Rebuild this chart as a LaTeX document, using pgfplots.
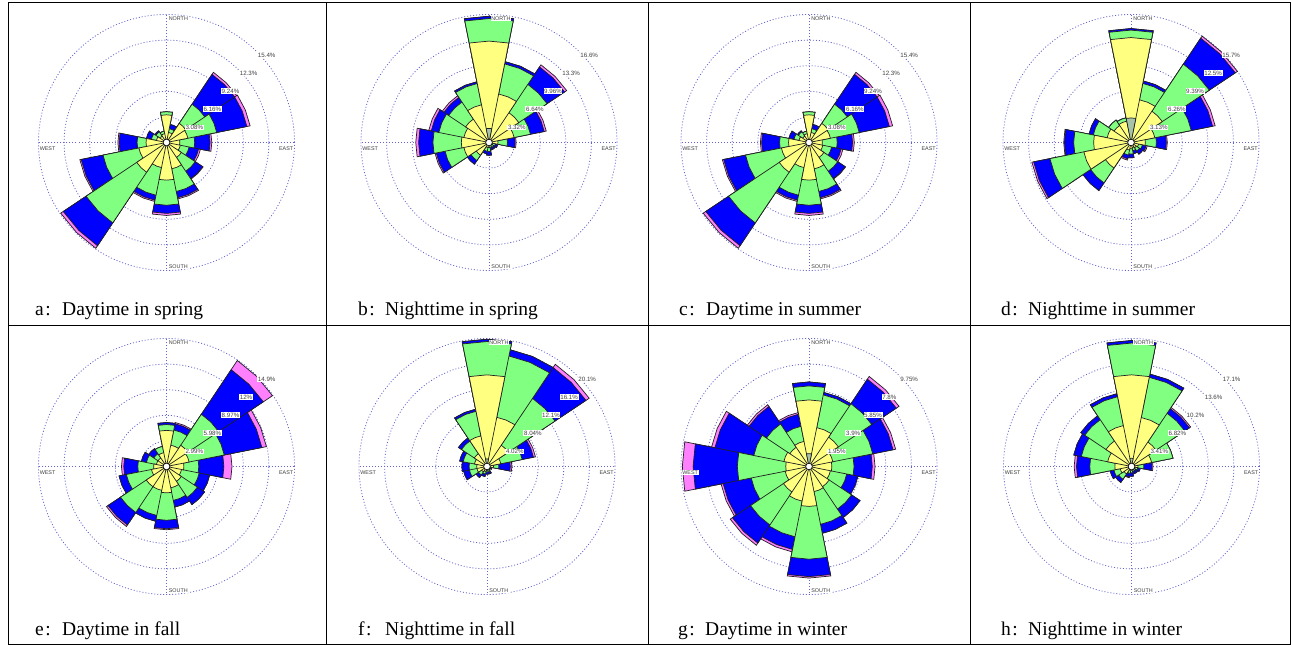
\documentclass[border=0pt]{standalone}
\usepackage{fontspec}
\setmainfont{Liberation Serif}
\newfontfamily\lsans{Liberation Sans}
\usepackage{pgfplots}
\usepackage{pgfplotstable}
\pgfplotsset{compat=1.18}
\usepgfplotslibrary{polar}
\definecolor{wgray}{HTML}{A8C4A8}
\definecolor{wyellow}{HTML}{FFFF80}
\definecolor{wgreen}{HTML}{80FF80}
\definecolor{wblue}{HTML}{0000FF}
\definecolor{wmag}{HTML}{FF80FF}
\definecolor{gridblue}{HTML}{6464CC}
\definecolor{lbl}{HTML}{404040}
\definecolor{edge}{HTML}{202020}

% cumulative percentages per direction (0=N, clockwise): k calm-ish bin, y yellow, g green, b blue, m magenta
\pgfplotstableread{
d k y g b m
0 0 3.33 3.70 3.70 3.70
1 0 1.23 1.69 2.22 2.22
2 0 2.77 5.54 9.86 10.16
3 0 2.62 6.16 9.86 10.26
4 0 1.60 3.39 5.24 5.45
5 0 1.69 2.77 3.94 4.16
6 0 2.16 4.16 5.24 5.30
7 0 3.23 6.01 6.78 6.93
8 0 4.53 7.55 8.53 8.78
9 0 3.08 6.47 7.08 7.24
10 0 4.31 11.64 14.94 15.31
11 0 3.39 7.79 10.47 10.63
12 0 2.46 3.54 5.70 5.85
13 0 1.23 1.85 2.46 2.46
14 0 0.92 1.54 1.69 1.69
15 0 1.08 1.39 1.39 1.39
}\tabA
\pgfplotstableread{
d k y g b m
0 1.83 13.15 16.07 16.37 16.37
1 0 6.41 10.39 10.69 10.69
2 0 4.65 9.06 11.79 12.12
3 0 3.32 5.48 7.30 7.57
4 0 1.16 2.39 3.39 3.52
5 0 0.50 0.83 1.16 1.16
6 0 0.40 0.73 1.00 1.00
7 0 0.40 0.73 1.00 1.00
8 0 0.66 1.16 1.66 1.66
9 0 0.66 1.16 1.49 1.49
10 0 1.99 2.82 3.39 3.39
11 0 3.32 5.81 6.97 7.14
12 0 3.59 7.27 9.13 9.50
13 0 3.32 6.64 7.64 7.97
14 0 3.65 6.31 7.04 7.30
15 0 4.98 7.80 8.03 8.03
}\tabB
\pgfplotstableread{
d k y g b m
0 3.00 12.83 13.74 13.93 13.93
1 0 5.32 7.36 7.67 7.67
2 0 4.60 11.52 15.34 15.65
3 0 2.97 7.51 10.17 10.49
4 0 1.75 3.10 4.32 4.44
5 0 0.94 1.41 1.88 2.03
6 0 0.78 1.25 1.72 1.72
7 0 0.63 1.03 1.41 1.41
8 0 0.78 1.41 1.88 1.88
9 0 0.94 1.57 2.03 2.19
10 0 3.76 5.95 7.07 7.07
11 0 5.88 10.11 12.14 12.36
12 0 4.57 7.01 8.14 8.23
13 0 2.97 4.70 5.23 5.23
14 0 2.50 3.29 3.29 3.29
15 0 2.66 3.07 3.07 3.07
}\tabD
\pgfplotstableread{
d k y g b m
0 0 4.22 4.90 5.14 5.14
1 0 2.54 4.34 5.08 5.23
2 0 2.99 7.33 13.60 14.89
3 0 2.69 6.88 11.36 11.90
4 0 2.03 3.77 6.70 7.65
5 0 1.79 3.89 5.14 5.14
6 0 2.09 4.34 5.35 5.35
7 0 2.54 4.04 4.84 4.84
8 0 3.08 6.28 7.27 7.39
9 0 2.84 5.83 6.52 6.52
10 0 2.84 6.46 8.22 8.43
11 0 1.79 4.78 5.65 5.65
12 0 1.50 3.35 4.99 5.26
13 0 1.20 2.39 2.99 2.99
14 0 1.20 1.79 2.51 2.51
15 0 1.64 2.39 2.39 2.39
}\tabE
\pgfplotstableread{
d k y g b m
0 1.20 14.39 19.62 19.98 19.98
1 0 7.88 17.69 18.69 18.69
2 0 4.02 12.86 18.69 19.30
3 0 2.21 5.63 7.44 7.76
4 0 1.01 1.85 3.66 3.90
5 0 0.40 0.60 0.80 0.80
6 0 0.32 0.48 0.60 0.60
7 0 0.60 0.88 1.21 1.21
8 0 0.60 0.88 1.21 1.21
9 0 0.80 1.21 1.61 1.61
10 0 1.01 1.61 2.09 2.09
11 0 1.61 2.81 3.74 3.74
12 0 1.61 2.81 3.94 3.94
13 0 2.01 3.82 4.38 4.38
14 0 2.41 4.82 5.39 5.39
15 0 4.90 8.84 9.17 9.17
}\tabF
\pgfplotstableread{
d k y g b m
0 0.98 5.07 6.14 6.44 6.44
1 0 3.02 5.56 5.75 5.75
2 0 2.69 5.75 8.00 8.25
3 0 1.85 4.95 6.53 6.73
4 0 1.74 3.43 4.82 5.03
5 0 1.66 2.93 3.80 3.80
6 0 1.85 3.90 4.68 4.68
7 0 1.95 4.49 5.19 5.19
8 0 3.04 7.06 8.39 8.50
9 0 2.69 5.46 6.44 6.63
10 0 2.34 5.36 7.02 7.22
11 0 1.85 4.49 6.67 6.83
12 0 1.77 5.46 8.83 9.65
13 0 1.95 4.29 7.31 7.57
14 0 1.76 3.90 5.50 5.66
15 0 1.95 3.12 4.06 4.19
}\tabG
\pgfplotstableread{
d k y g b m
0 1.09 12.21 16.44 16.78 16.78
1 0 6.65 12.11 12.55 12.55
2 0 3.92 8.53 9.28 9.48
3 0 2.73 5.63 5.63 5.63
4 0 0.85 1.64 2.73 2.86
5 0 0.51 0.85 1.19 1.19
6 0 0.41 0.68 1.02 1.02
7 0 0.41 0.68 1.02 1.02
8 0 0.51 0.85 1.30 1.30
9 0 0.51 0.95 1.43 1.53
10 0 1.19 2.05 2.56 2.56
11 0 1.53 2.39 2.90 2.90
12 0 2.22 5.56 7.33 7.64
13 0 3.24 6.82 7.84 7.84
14 0 4.09 7.50 8.12 8.12
15 0 5.56 9.48 9.89 9.89
}\tabH

% one stacked layer of all 16 sectors, read from a table column
\newcommand\windlayer[3]{%
  \def\windcoords{}%
  \pgfplotsforeachungrouped \i in {0,...,15}{%
    \pgfplotstablegetelem{\i}{#2}\of{#1}%
    \let\rr\pgfplotsretval
    \pgfmathsetmacro\ac{90-22.5*\i}%
    \pgfmathsetmacro\al{\ac+11.25}%
    \pgfmathsetmacro\ar{\ac-11.25}%
    \edef\windcoords{\windcoords (0,0) (\al,\rr) (\ac,\rr) (\ar,\rr)}%
  }%
  \edef\windtmp{\noexpand\addplot[draw=edge, line width=0.7bp, line join=miter, fill=#3] coordinates {\windcoords (0,0)};}%
  \windtmp
}

\pgfplotsset{windrose/.style={
  scale only axis, width=256bp, height=256bp, anchor=center,
  xmin=0, xmax=360, ymin=0,
  xtick={0,90,180,270}, xticklabels={}, yticklabels={},
  major tick length=0pt,
  xmajorgrids, ymajorgrids,
  grid style={line width=0.8bp, color=gridblue, dash pattern=on 1bp off 2bp},
  axis line style={draw=none},
  clip=false,
}}
\tikzset{
  rl/.style={anchor=north west, fill=white, inner sep=0.7bp, text=lbl,
     font=\lsans\fontsize{6.2bp}{7bp}\selectfont},
  dl/.style={fill=white, inner sep=0.6bp, text=lbl,
     font=\lsans\fontsize{5.4bp}{6bp}\selectfont},
  captxt/.style={anchor=base west, inner sep=0pt, font=\fontsize{19.5bp}{22bp}\selectfont},
}

\newcommand\windpanel[9]{%
  \pgfmathsetmacro\rA{#4}\pgfmathsetmacro\rB{2*#4}\pgfmathsetmacro\rC{3*#4}%
  \pgfmathsetmacro\rD{4*#4}\pgfmathsetmacro\rE{5*#4}%
  \begin{polaraxis}[windrose, at={(#2bp,#3bp)}, ymax=\rE, ytick={\rA,\rB,\rC,\rD,\rE}]
    \windlayer{#1}{m}{wmag}
    \windlayer{#1}{b}{wblue}
    \windlayer{#1}{g}{wgreen}
    \windlayer{#1}{y}{wyellow}
    \windlayer{#1}{k}{wgray}
    \addplot[mark=*, mark size=3.3bp, mark options={fill=white, draw=black, line width=0.6bp}] coordinates {(0,0)};
    \node[rl] at (axis cs:45,\rA) {#5\%};
    \node[rl] at (axis cs:45,\rB) {#6\%};
    \node[rl] at (axis cs:45,\rC) {#7\%};
    \node[rl] at (axis cs:45,\rD) {#8\%};
    \node[rl] at (axis cs:45,\rE) {#9\%};
    \node[dl, anchor=north west, xshift=1.5bp, yshift=-1.5bp] at (axis cs:90,\rE) {NORTH};
    \node[dl, anchor=south west, xshift=1.5bp, yshift=1.5bp] at (axis cs:270,\rE) {SOUTH};
    \node[dl, anchor=north east, xshift=-0.5bp, yshift=-3bp] at (axis cs:0,\rE) {EAST};
    \node[dl, anchor=north west, xshift=0.5bp, yshift=-3bp] at (axis cs:180,\rE) {WEST};
  \end{polaraxis}
}

\begin{document}
\begin{tikzpicture}[x=1bp,y=1bp]
\useasboundingbox (0,0) rectangle (1292,647);
% table frame
\draw[line width=1bp] (8,644) rectangle (1290,2);
\draw[line width=1bp] (8,321) -- (1290,321);
\foreach \xx in {326,648,970} \draw[line width=1bp] (\xx,644) -- (\xx,2);

\windpanel{\tabA}{166.5}{504.5}{3.08}{3.08}{6.16}{9.24}{12.3}{15.4}
\windpanel{\tabB}{489}{504.5}{3.32}{3.32}{6.64}{9.96}{13.3}{16.6}
\windpanel{\tabA}{809}{504.5}{3.08}{3.08}{6.16}{9.24}{12.3}{15.4}
\windpanel{\tabD}{1131}{504.5}{3.13}{3.13}{6.26}{9.39}{12.5}{15.7}
\windpanel{\tabE}{166.5}{180.5}{2.99}{2.99}{5.98}{8.97}{12}{14.9}
\windpanel{\tabF}{487}{180.5}{4.02}{4.02}{8.04}{12.1}{16.1}{20.1}
\windpanel{\tabG}{809}{180.5}{1.95}{1.95}{3.9}{5.85}{7.8}{9.75}
\windpanel{\tabH}{1131.5}{180.5}{3.41}{3.41}{6.82}{10.2}{13.6}{17.1}

% captions
\foreach \cx/\cy/\lt/\tx in {35/331/a/Daytime in spring, 358/331/b/Nighttime in spring,
   679/331/c/Daytime in summer, 1001/331/d/Nighttime in summer,
   35/11/e/Daytime in fall, 358/11/f/Nighttime in fall,
   678/11/g/Daytime in winter, 1001/11/h/Nighttime in winter}{
  \node[captxt] at (\cx,\cy) {\lt\kern1.5bp:};
  \node[captxt] at (\cx+27,\cy) {\tx};
}
\end{tikzpicture}
\end{document}
